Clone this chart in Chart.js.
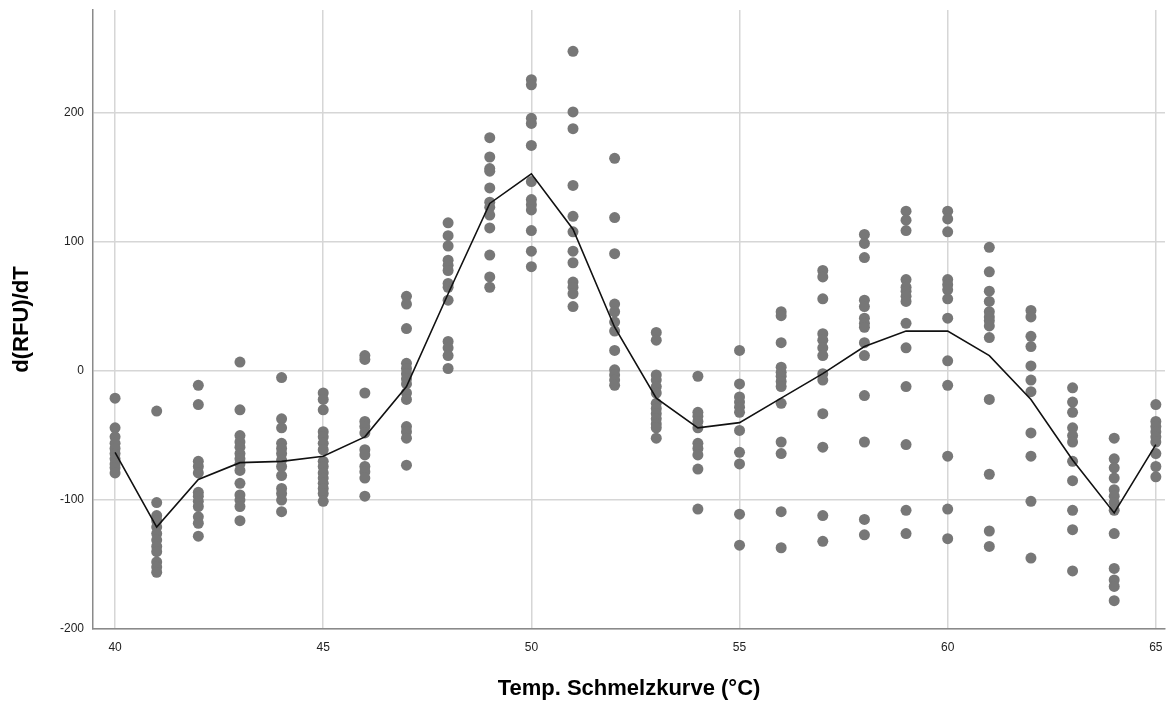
<!DOCTYPE html>
<html>
<head>
<meta charset="utf-8">
<script src="https://cdn.jsdelivr.net/npm/chart.js@4"></script>
<style>
  body { margin: 0; background: #fff; }
  canvas { display: block; }
</style>
</head>
<body>
<canvas id="myChart" width="1175" height="702"></canvas>
<script>
// temperatures on the x axis (one column of dots per degree)
const temps = [40, 41, 42, 43, 44, 45, 46, 47, 48, 49, 50, 51, 52,
               53, 54, 55, 56, 57, 58, 59, 60, 61, 62, 63, 64, 65];

// single readings per temperature, same order as temps
const readings = [
  [-21, -44, -51, -56, -60, -64, -68, -72, -75, -79],                 // 40
  [-31, -102, -112, -116, -121, -126, -131, -136, -140, -148, -152, -156], // 41
  [-11, -26, -70, -74, -79, -94, -97, -101, -105, -113, -118, -128],  // 42
  [7, -30, -50, -55, -59, -64, -68, -72, -77, -87, -96, -100, -105, -116], // 43
  [-5, -37, -44, -56, -60, -64, -69, -74, -81, -91, -95, -100, -109], // 44
  [-17, -22, -30, -47, -51, -56, -61, -70, -74, -79, -83, -87, -91, -95, -101], // 45
  [12, 9, -17, -39, -43, -48, -61, -65, -74, -78, -83, -97],          // 46
  [58, 52, 33, 6, 2, -2, -6, -10, -17, -22, -43, -47, -52, -73],      // 47
  [115, 105, 97, 86, 82, 78, 68, 65, 55, 23, 18, 12, 2],              // 48
  [181, 166, 157, 155, 142, 131, 127, 121, 111, 90, 73, 65],          // 49
  [226, 222, 196, 192, 175, 147, 133, 129, 125, 109, 93, 81],         // 50
  [248, 201, 188, 144, 120, 108, 93, 84, 69, 65, 60, 50],             // 51
  [165, 119, 91, 52, 46, 38, 31, 16, 1, -3, -7, -11],                 // 52
  [30, 24, -3, -7, -12, -17, -25, -29, -33, -37, -41, -44, -52],      // 53
  [-4, -32, -35, -39, -44, -56, -60, -65, -76, -107],                 // 54
  [16, -10, -20, -24, -28, -32, -46, -63, -72, -111, -135],           // 55
  [46, 43, 22, 3, -1, -4, -8, -12, -25, -55, -64, -109, -137],        // 56
  [78, 73, 56, 29, 24, 18, 12, -2, -7, -33, -59, -112, -132],         // 57
  [106, 99, 88, 55, 50, 41, 37, 34, 22, 12, -19, -55, -115, -127],    // 58
  [124, 117, 109, 71, 65, 62, 58, 54, 37, 18, -12, -57, -108, -126],  // 59
  [124, 118, 108, 71, 67, 63, 56, 41, 8, -11, -66, -107, -130],       // 60
  [96, 77, 62, 54, 46, 42, 39, 35, 26, -22, -80, -124, -136],         // 61
  [47, 42, 27, 19, 4, -7, -16, -48, -66, -101, -145],                 // 62
  [-13, -24, -32, -44, -50, -55, -70, -85, -108, -123, -155],         // 63
  [-52, -68, -75, -83, -92, -97, -102, -108, -126, -153, -162, -167, -178], // 64
  [-26, -39, -43, -47, -51, -55, -64, -74, -82],                      // 65
];

// mean curve drawn through the columns
const meanLine = [-63, -121, -84, -71, -70, -66, -51, -12, 60, 130, 153, 110, 34,
                  -21, -44, -40, -21, -2, 19, 31, 31, 12, -22, -69, -110, -57];

const xTicks = [40, 45, 50, 55, 60, 65];
const yTicks = [-200, -100, 0, 100, 200];

const dots = [];
temps.forEach((t, i) => {
  readings[i].forEach(v => dots.push({ x: t, y: v }));
});

const gridColor = '#d6d6d6';
const axisColor = '#8a8a8a';
const font = 'Liberation Sans, Arial, sans-serif';

const config = {
  type: 'scatter',
  data: {
    datasets: [{
      type: 'line',
      data: temps.map((t, i) => ({ x: t, y: meanLine[i] })),
      borderColor: '#111',
      borderWidth: 1.6,
      pointRadius: 0,
      fill: false,
      tension: 0,
      order: 0,
    }, {
      data: dots,
      backgroundColor: '#777777',
      borderWidth: 0,
      pointRadius: 5.5,
      order: 1,
    }]
  },
  options: {
    responsive: false,
    animation: false,
    layout: { padding: { top: 10, right: 10, left: 0, bottom: 0 } },
    plugins: {
      legend: { display: false },
      tooltip: { enabled: false },
    },
    scales: {
      x: {
        type: 'linear',
        min: 39.47,
        max: 65.22,
        afterBuildTicks: s => { s.ticks = xTicks.map(v => ({ value: v })); },
        afterFit: s => { s.height = 73; },
        grid: { color: gridColor, lineWidth: 1.5, drawTicks: false },
        border: { display: true, color: axisColor, width: 1.5 },
        ticks: { padding: 11, color: '#222', font: { family: font, size: 12 } },
        title: {
          display: true,
          text: 'Temp. Schmelzkurve (°C)',
          color: '#000',
          padding: { top: 0, bottom: 0 },
          font: { family: font, size: 22, weight: 'bold' },
        },
      },
      y: {
        type: 'linear',
        min: -200,
        max: 280,
        afterBuildTicks: s => { s.ticks = yTicks.map(v => ({ value: v })); },
        afterFit: s => { s.width = 93; s.paddingTop = 0; s.paddingBottom = 0; },
        grid: { color: gridColor, lineWidth: 1.5, drawTicks: false },
        border: { display: true, color: axisColor, width: 1.5 },
        ticks: { padding: 9, color: '#222', font: { family: font, size: 12 } },
        title: {
          display: true,
          text: 'd(RFU)/dT',
          color: '#000',
          padding: { top: 9, bottom: 0 },
          font: { family: font, size: 22, weight: 'bold' },
        },
      },
    },
  },
};

const myChart = new Chart(document.getElementById('myChart'), config);
</script>
</body>
</html>
